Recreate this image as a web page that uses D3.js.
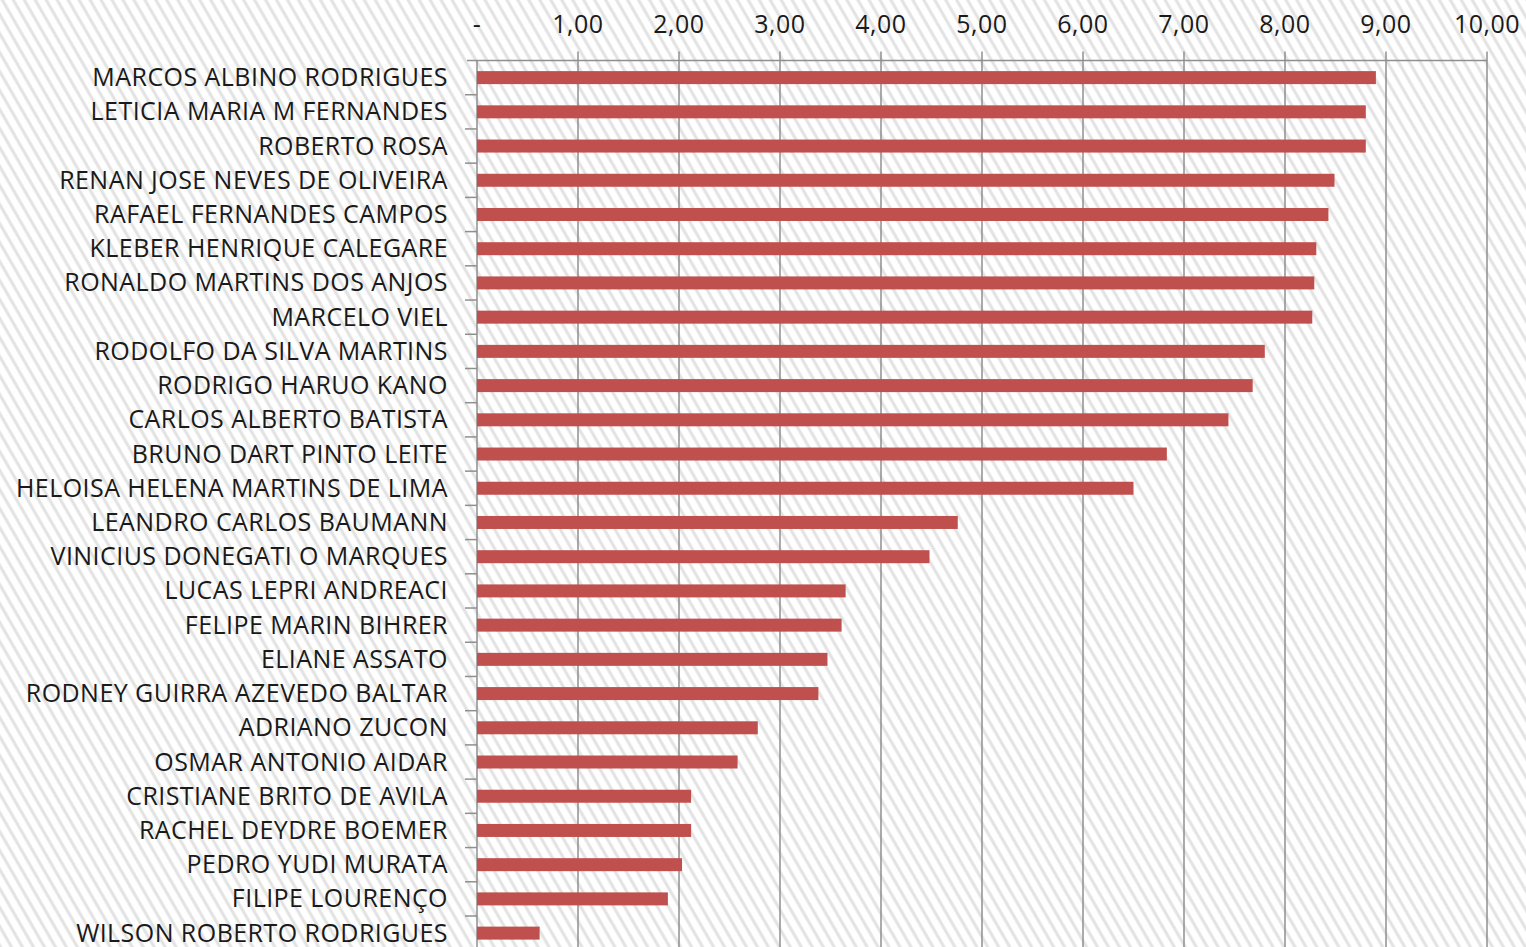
<!DOCTYPE html>
<html lang="pt">
<head>
    <meta charset="UTF-8">
    <title>Ranking</title>
    <script src="https://d3js.org/d3.v7.min.js"></script>
    <style>
        body {
            margin: 0;
            overflow: hidden;
            background: #fff;
        }
        text {
            font-family: "Open Sans", sans-serif;
            fill: #1a1a1a;
        }
    </style>
</head>
<body>
    <script>
        // Nomes e notas
        const names = [
            "MARCOS ALBINO RODRIGUES", "LETICIA MARIA M FERNANDES", "ROBERTO ROSA",
            "RENAN JOSE NEVES DE OLIVEIRA", "RAFAEL FERNANDES CAMPOS", "KLEBER HENRIQUE CALEGARE",
            "RONALDO MARTINS DOS ANJOS", "MARCELO VIEL", "RODOLFO DA SILVA MARTINS",
            "RODRIGO HARUO KANO", "CARLOS ALBERTO BATISTA", "BRUNO DART PINTO LEITE",
            "HELOISA HELENA MARTINS DE LIMA", "LEANDRO CARLOS BAUMANN", "VINICIUS DONEGATI O MARQUES",
            "LUCAS LEPRI ANDREACI", "FELIPE MARIN BIHRER", "ELIANE ASSATO",
            "RODNEY GUIRRA AZEVEDO BALTAR", "ADRIANO ZUCON", "OSMAR ANTONIO AIDAR",
            "CRISTIANE BRITO DE AVILA", "RACHEL DEYDRE BOEMER", "PEDRO YUDI MURATA",
            "FILIPE LOURENÇO", "WILSON ROBERTO RODRIGUES"
        ];
        const scores = [
            8.90, 8.80, 8.80, 8.49, 8.43, 8.31, 8.29, 8.27, 7.80, 7.68, 7.44, 6.83, 6.50,
            4.76, 4.48, 3.65, 3.61, 3.47, 3.38, 2.78, 2.58, 2.12, 2.12, 2.03, 1.89, 0.62
        ];
        const tickValues = [0, 1, 2, 3, 4, 5, 6, 7, 8, 9, 10];

        const width = 1526, height = 947;
        const plotLeft = 477, plotRight = 1487, plotTop = 60.5, rowStep = 34.22;

        const svg = d3.select("body").append("svg")
            .attr("width", width)
            .attr("height", height);

        // fundo hachurado
        const pat = svg.append("defs").append("pattern")
            .attr("id", "hatch")
            .attr("patternUnits", "userSpaceOnUse")
            .attr("width", 9.5)
            .attr("height", 9.5)
            .attr("patternTransform", "rotate(-30)");
        pat.append("rect").attr("width", 9.5).attr("height", 9.5).attr("fill", "#fff");
        pat.append("line")
            .attr("x1", 2).attr("y1", 0).attr("x2", 2).attr("y2", 9.5)
            .attr("stroke", "#e2e2e2")
            .attr("stroke-width", 3);

        svg.append("rect")
            .attr("width", width)
            .attr("height", height)
            .attr("fill", "url(#hatch)");

        const x = d3.scaleLinear().domain([0, 10]).range([plotLeft, plotRight]);
        const y = d3.scaleBand()
            .domain(names)
            .range([plotTop, plotTop + rowStep * names.length])
            .paddingInner(0.62)
            .paddingOuter(0.31);

        // grade vertical
        svg.append("g").selectAll("line")
            .data(tickValues)
            .join("line")
            .attr("x1", d => x(d)).attr("x2", d => x(d))
            .attr("y1", d => d === 0 ? plotTop : plotTop - 9)
            .attr("y2", height)
            .attr("stroke", "#8f8f8f")
            .attr("stroke-width", 1.5);

        // linha do eixo superior
        svg.append("line")
            .attr("x1", plotLeft - 10).attr("x2", plotRight)
            .attr("y1", plotTop).attr("y2", plotTop)
            .attr("stroke", "#8f8f8f")
            .attr("stroke-width", 1.5);

        // marcas do eixo de categorias
        svg.append("g").selectAll("line")
            .data(names.slice(1))
            .join("line")
            .attr("x1", plotLeft - 12).attr("x2", plotLeft)
            .attr("y1", d => y(d) - y.step() * y.paddingInner() / 2)
            .attr("y2", d => y(d) - y.step() * y.paddingInner() / 2)
            .attr("stroke", "#8f8f8f")
            .attr("stroke-width", 1.5);

        // rótulos do eixo x
        svg.append("g").selectAll("text")
            .data(tickValues)
            .join("text")
            .attr("x", d => x(d))
            .attr("y", 33)
            .attr("text-anchor", "middle")
            .style("font-size", "25px")
            .style("letter-spacing", "0.5px")
            .text(d => d === 0 ? "-" : d3.format(".2f")(d).replace(".", ","));

        // barras
        svg.append("g").selectAll("rect")
            .data(names)
            .join("rect")
            .attr("x", x(0))
            .attr("y", d => y(d))
            .attr("width", (d, i) => x(scores[i]) - x(0))
            .attr("height", y.bandwidth())
            .attr("fill", "#c0504d");

        // nomes
        svg.append("g").selectAll("text")
            .data(names)
            .join("text")
            .attr("x", 448)
            .attr("y", d => y(d) + y.bandwidth() / 2)
            .attr("dy", "0.34em")
            .attr("text-anchor", "end")
            .style("font-size", "25px")
            .style("letter-spacing", "0.45px")
            .text(d => d);
    </script>
</body>
</html>
